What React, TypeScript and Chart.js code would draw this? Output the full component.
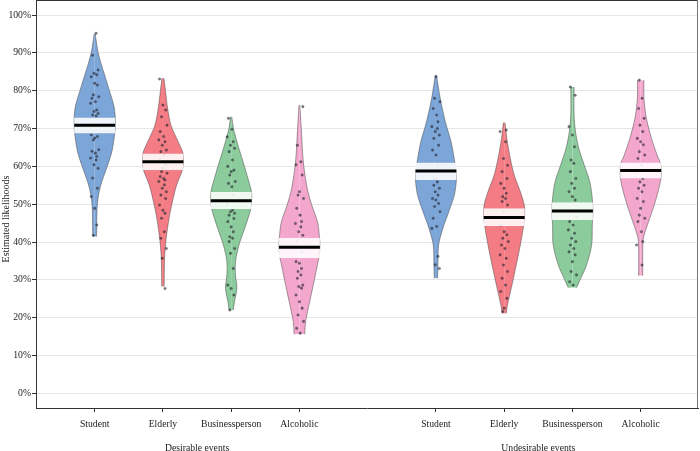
import { useEffect, useRef } from 'react';
import { Chart, registerables } from 'chart.js';

Chart.register(...registerables);

// ---------- data ----------
const CATEGORIES = ['Student', 'Elderly', 'Businessperson', 'Alcoholic'];
const GROUP_LABELS = ['Desirable events', 'Undesirable events'];
const Y_TICKS = [0, 10, 20, 30, 40, 50, 60, 70, 80, 90, 100];

// mean and confidence band (percent)
const DES_MEAN = [70.9, 61.2, 50.9, 38.6];
const DES_LOW = [68.7, 59.0, 48.7, 35.7];
const DES_HIGH = [72.9, 63.4, 53.2, 41.1];
const UND_MEAN = [58.8, 46.5, 48.2, 58.9];
const UND_LOW = [56.4, 44.2, 45.8, 56.8];
const UND_HIGH = [61.0, 48.9, 50.5, 61.0];

// violin outlines: [value %, relative half-width]
const DES_STUDENT_SHAPE = [[95, 0.03], [93, 0.08], [90.3, 0.16], [87, 0.32], [84.1, 0.49], [79.7, 0.74], [76.2, 0.93], [73.5, 1], [70, 1], [68.7, 0.98], [63.9, 0.84], [59.5, 0.58], [55.1, 0.3], [51.5, 0.16], [48, 0.11], [42.7, 0.1], [41.4, 0.08]];
const DES_ELDERLY_SHAPE = [[83.3, 0.05], [79.7, 0.13], [75.3, 0.23], [70.9, 0.39], [67.4, 0.67], [64.8, 0.89], [63.4, 0.98], [61, 1], [59, 0.95], [55.1, 0.67], [50.6, 0.46], [46.3, 0.3], [41, 0.16], [35.7, 0.08], [28.2, 0.06]];
const DES_BUSINESS_SHAPE = [[73.1, 0.03], [70, 0.11], [65.6, 0.33], [61.2, 0.58], [56.8, 0.82], [53.3, 0.99], [51, 1], [48.7, 0.95], [47.1, 0.87], [43.6, 0.66], [39.2, 0.38], [34.8, 0.21], [31.3, 0.21], [27.8, 0.28], [24.2, 0.16], [22, 0.1]];
const DES_ALCOHOLIC_SHAPE = [[76.2, 0.02], [70, 0.09], [61.2, 0.19], [54.2, 0.38], [49.8, 0.6], [45.4, 0.88], [41.8, 0.97], [39, 1], [35.7, 0.95], [34.8, 0.91], [29.5, 0.71], [24.2, 0.5], [18.9, 0.3], [15.6, 0.26]];
const UND_STUDENT_SHAPE = [[84.1, 0.03], [78, 0.21], [71.8, 0.46], [66.5, 0.74], [61.2, 0.92], [58.5, 0.98], [56.4, 1], [52.4, 0.9], [48, 0.63], [43.6, 0.34], [39.2, 0.13], [33.9, 0.1], [30.4, 0.08]];
const UND_ELDERLY_SHAPE = [[71.6, 0.04], [67.4, 0.13], [62.1, 0.3], [57.7, 0.49], [53.3, 0.79], [49.8, 0.98], [47, 1], [44.2, 0.95], [39.2, 0.79], [33.9, 0.59], [28.6, 0.38], [23.3, 0.16], [21.1, 0.1]];
const UND_BUSINESS_SHAPE = [[81, 0.08], [73.7, 0.08], [69.2, 0.15], [64.8, 0.31], [60.3, 0.58], [55.9, 0.85], [51.5, 0.97], [48, 1], [44.5, 0.97], [39.2, 0.94], [33.9, 0.69], [30.4, 0.41], [27.9, 0.2]];
const UND_ALCOHOLIC_SHAPE = [[82.8, 0.16], [78, 0.16], [72.7, 0.28], [67.4, 0.53], [63, 0.8], [60.8, 0.97], [58.5, 1], [56.8, 0.99], [53.3, 0.85], [48.9, 0.61], [44.5, 0.33], [41, 0.13], [37.4, 0.1], [31.1, 0.1]];

// individual responses (percent)
const DES_STUDENT_PTS = [95.2, 89.4, 85.5, 84.6, 84.2, 83.7, 82.0, 81.5, 78.9, 78.4, 78.0, 77.1, 76.7, 74.9, 74.5, 74.0, 73.6, 73.3, 68.3, 67.9, 67.5, 67.0, 64.4, 64.0, 63.5, 62.6, 62.2, 61.7, 60.4, 59.5, 56.9, 54.2, 52.0, 48.9, 44.5, 41.8];
const DES_ELDERLY_PTS = [83.1, 76.2, 74.9, 73.1, 70.9, 69.2, 67.9, 67.0, 66.5, 65.6, 64.3, 63.9, 63.0, 62.1, 60.4, 59.5, 58.6, 58.2, 57.3, 56.8, 56.4, 56.0, 55.1, 54.2, 53.3, 52.4, 51.5, 49.8, 48.4, 47.6, 46.3, 42.7, 41.0, 38.3, 35.7, 27.7];
const DES_BUSINESS_PTS = [72.7, 69.8, 67.8, 66.5, 65.6, 64.8, 63.9, 61.7, 60.0, 59.0, 58.6, 57.7, 56.0, 55.5, 54.6, 52.4, 49.8, 48.4, 48.0, 47.6, 47.1, 46.2, 45.4, 44.0, 42.7, 41.4, 41.0, 40.1, 38.3, 37.0, 33.0, 28.6, 27.7, 26.0, 22.0];
const DES_ALCOHOLIC_PTS = [75.8, 65.6, 61.2, 60.4, 57.7, 53.3, 52.4, 51.5, 48.9, 47.1, 45.4, 44.9, 44.0, 42.7, 41.8, 40.1, 37.4, 34.8, 34.4, 33.0, 32.2, 31.3, 30.4, 28.6, 28.2, 27.8, 26.0, 24.2, 22.5, 20.7, 19.0, 17.2, 15.9];
const UND_STUDENT_PTS = [83.7, 78.0, 77.1, 75.3, 73.6, 71.8, 70.5, 70.0, 69.2, 68.3, 67.4, 65.6, 64.3, 63.0, 60.3, 56.8, 55.9, 55.0, 54.2, 53.3, 52.4, 51.5, 51.1, 50.2, 49.4, 48.0, 46.3, 44.1, 43.6, 36.2, 34.0, 33.0];
const UND_ELDERLY_PTS = [69.6, 69.2, 66.5, 62.1, 60.3, 58.6, 56.8, 55.5, 54.2, 52.9, 52.0, 51.5, 50.7, 49.8, 48.0, 46.3, 44.5, 42.7, 41.9, 41.0, 40.1, 39.2, 38.3, 36.6, 35.7, 33.9, 32.2, 30.4, 28.6, 26.9, 25.1, 22.5, 21.6];
const UND_BUSINESS_PTS = [81.0, 78.8, 70.5, 68.3, 65.2, 61.7, 60.8, 58.6, 56.8, 55.5, 54.2, 53.3, 52.0, 51.1, 48.0, 46.7, 45.4, 44.5, 43.2, 42.3, 41.0, 40.1, 39.2, 38.3, 37.4, 36.6, 34.8, 32.2, 31.3, 29.5, 28.6];
const UND_ALCOHOLIC_PTS = [82.8, 78.0, 75.3, 72.7, 70.9, 69.2, 67.4, 66.5, 65.7, 63.9, 63.0, 62.1, 60.4, 58.6, 56.8, 55.9, 55.0, 54.2, 53.3, 51.5, 50.7, 48.9, 47.1, 46.3, 45.4, 42.7, 40.1, 39.2, 33.9];

// horizontal jitter of the dots (category units)
const JITTER = [0.02, -0.03, 0.05, -0.01, 0.03, -0.05, 0.0, 0.04, -0.02, 0.06, -0.04, 0.01, -0.06, 0.03, -0.01, 0.05, -0.03, 0.02, -0.05, 0.04, 0.0, -0.02, 0.06, -0.04, 0.01, 0.03, -0.06, 0.02, -0.01, 0.05, -0.03, 0.04, -0.05, 0.0, 0.03, -0.02];

// ---------- layout / style ----------
const POSITIONS = [0, 1, 2, 3, 5, 6, 7, 8];
const GROUP_CENTERS = [1.5, 6.5];
const HALF = 0.3;
const COLORS = ['#7ca5d8', '#f47c85', '#8ccb9c', '#f4a7cd'];
const FONT = "'Liberation Serif', 'Times New Roman', serif";
const TEXT = '#222';
const AXIS = '#333';
const X_MIN = -0.86;
const X_MAX = 8.84;
const Y_MIN = -3.9;
const Y_MAX = 104;

const SHAPES = [DES_STUDENT_SHAPE, DES_ELDERLY_SHAPE, DES_BUSINESS_SHAPE, DES_ALCOHOLIC_SHAPE, UND_STUDENT_SHAPE, UND_ELDERLY_SHAPE, UND_BUSINESS_SHAPE, UND_ALCOHOLIC_SHAPE];
const POINTS = [DES_STUDENT_PTS, DES_ELDERLY_PTS, DES_BUSINESS_PTS, DES_ALCOHOLIC_PTS, UND_STUDENT_PTS, UND_ELDERLY_PTS, UND_BUSINESS_PTS, UND_ALCOHOLIC_PTS];
const MEANS = [...DES_MEAN, ...UND_MEAN];
const LOWS = [...DES_LOW, ...UND_LOW];
const HIGHS = [...DES_HIGH, ...UND_HIGH];
const LABELS = [...CATEGORIES, ...CATEGORIES];

const noPadX = (h: number) => (s: any) => { s.height = h; s.paddingLeft = 0; s.paddingRight = 0; };
const noPadY = (w: number) => (s: any) => { s.width = w; s.paddingTop = 0; s.paddingBottom = 0; };

// thin frame on the top and right of the plot area
const framePlugin = {
  id: 'frame',
  afterDatasetsDraw(chart: any) {
    const { ctx, chartArea: a } = chart;
    ctx.save();
    ctx.lineWidth = 1;
    ctx.strokeStyle = AXIS;
    ctx.beginPath();
    ctx.moveTo(a.left, a.top + 0.5);
    ctx.lineTo(a.right, a.top + 0.5);
    ctx.stroke();
    ctx.strokeStyle = '#777';
    ctx.beginPath();
    ctx.moveTo(Math.round(a.right) - 0.5, a.top);
    ctx.lineTo(Math.round(a.right) - 0.5, a.bottom);
    ctx.stroke();
    ctx.restore();
  },
};

export default function App() {
  const ref = useRef<HTMLCanvasElement>(null);

  useEffect(() => {
    if (!ref.current) return;
    const datasets: any[] = [];

    // violins: each half is a vertical line filled towards the centre
    SHAPES.forEach((shape, i) => {
      const pos = POSITIONS[i];
      [1, -1].forEach((side) => {
        datasets.push({
          type: 'line',
          indexAxis: 'y',
          xAxisID: 'x',
          yAxisID: 'y',
          data: shape.map(([v, w]) => ({ x: pos + side * HALF * w, y: v })),
          borderColor: 'rgba(70,70,70,0.7)',
          borderWidth: 0.7,
          backgroundColor: COLORS[i % 4],
          fill: { value: pos },
          pointRadius: 0,
          tension: 0.3,
          order: 10,
        });
      });
    });

    // individual responses
    const pts: any[] = [];
    POINTS.forEach((arr, g) => {
      arr.forEach((v, k) => {
        pts.push({ x: POSITIONS[g] + JITTER[(k + g * 5) % JITTER.length], y: v });
      });
    });
    datasets.push({
      type: 'scatter',
      xAxisID: 'x',
      yAxisID: 'y',
      data: pts,
      pointRadius: 1.3,
      backgroundColor: 'rgba(35,35,45,0.6)',
      borderColor: 'rgba(35,35,45,0.35)',
      borderWidth: 0.5,
      order: 8,
    });

    // confidence boxes and mean lines
    POSITIONS.forEach((p, i) => {
      datasets.push({
        type: 'line',
        indexAxis: 'y',
        xAxisID: 'x',
        yAxisID: 'y',
        data: [{ x: p + HALF, y: HIGHS[i] }, { x: p + HALF, y: LOWS[i] }],
        borderWidth: 0,
        backgroundColor: 'rgba(255,255,255,0.88)',
        fill: { value: p - HALF },
        pointRadius: 0,
        order: 5,
      });
      datasets.push({
        type: 'line',
        xAxisID: 'x',
        yAxisID: 'y',
        data: [{ x: p - HALF, y: MEANS[i] }, { x: p + HALF, y: MEANS[i] }],
        borderColor: '#000',
        borderWidth: 3,
        borderCapStyle: 'butt',
        pointRadius: 0,
        fill: false,
        order: 1,
      });
    });

    const chart = new Chart(ref.current, {
      type: 'line',
      data: { datasets },
      plugins: [framePlugin],
      options: {
        animation: false,
        responsive: false,
        devicePixelRatio: 1,
        layout: { autoPadding: false, padding: { top: 0, right: 2, bottom: 0, left: 0 } },
        plugins: { legend: { display: false }, tooltip: { enabled: false } },
        scales: {
          x: {
            type: 'linear',
            axis: 'x',
            position: 'bottom',
            weight: 0,
            offset: false,
            min: X_MIN,
            max: X_MAX,
            afterBuildTicks: (s: any) => { s.ticks = POSITIONS.map((v) => ({ value: v })); },
            afterFit: noPadX(24),
            grid: { offset: false, drawOnChartArea: false, drawTicks: true, tickLength: 4, tickColor: AXIS },
            border: { display: true, color: AXIS, width: 1 },
            ticks: {
              autoSkip: false,
              maxRotation: 0,
              padding: 7,
              color: TEXT,
              font: { family: FONT, size: 9.7 },
              callback: (_v: any, idx: number) => LABELS[idx],
            },
          },
          x2: {
            type: 'linear',
            axis: 'x',
            position: 'bottom',
            weight: 1,
            offset: false,
            min: X_MIN,
            max: X_MAX,
            afterBuildTicks: (s: any) => { s.ticks = GROUP_CENTERS.map((v) => ({ value: v })); },
            afterFit: noPadX(19),
            grid: { display: false, drawTicks: false, offset: false },
            border: { display: false },
            ticks: {
              autoSkip: false,
              maxRotation: 0,
              padding: 11,
              color: TEXT,
              font: { family: FONT, size: 9.7 },
              callback: (_v: any, idx: number) => GROUP_LABELS[idx],
            },
          },
          y: {
            type: 'linear',
            axis: 'y',
            position: 'left',
            min: Y_MIN,
            max: Y_MAX,
            afterBuildTicks: (s: any) => { s.ticks = Y_TICKS.map((v) => ({ value: v })); },
            afterFit: noPadY(36),
            grid: { color: '#e6e6e6', lineWidth: 1, drawTicks: true, tickLength: 4, tickColor: AXIS },
            border: { display: true, color: AXIS, width: 1 },
            ticks: {
              padding: 1,
              color: TEXT,
              font: { family: FONT, size: 9.7 },
              callback: (v: any) => `${v}%`,
            },
            title: {
              display: true,
              text: 'Estimated likelihoods' + '\u00a0'.repeat(12),
              color: TEXT,
              font: { family: FONT, size: 10 },
              padding: { top: 0, bottom: 0 },
            },
          },
        },
      } as any,
    });

    return () => chart.destroy();
  }, []);

  return (
    <div style={{ position: 'fixed', left: 0, top: 0, width: 700, height: 451, background: '#fff' }}>
      <canvas ref={ref} width={700} height={451} style={{ display: 'block' }} />
    </div>
  );
}
